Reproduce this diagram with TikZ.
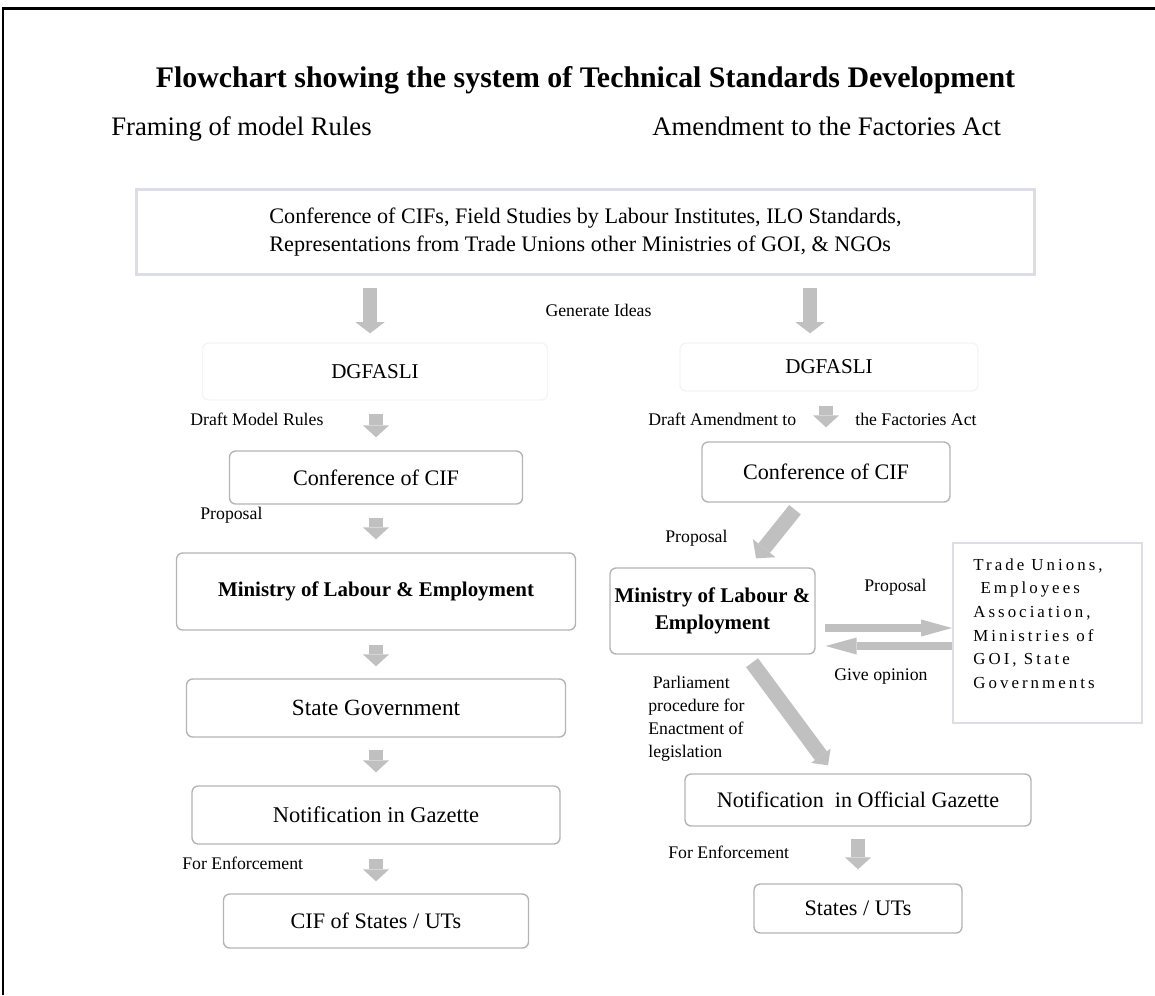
\documentclass[tikz,border=0pt]{standalone}
\usepackage{fontspec}
\setmainfont{Liberation Serif}
\newfontfamily\spacedfont[LetterSpace=18]{Liberation Serif}
\usetikzlibrary{arrows.meta,calc}

\definecolor{arrowgray}{HTML}{C0C0C0}
\definecolor{boxgray}{HTML}{B4B4B4}
\definecolor{frameblue}{HTML}{DCDDE6}
\definecolor{faintgray}{HTML}{F4F4F4}

\tikzset{
	rbox/.style={draw=boxgray, line width=0.8pt, rounded corners=3.5pt, inner sep=0pt, align=center, font=\fontsize{12.6}{15}\selectfont},
	mbox/.style={rbox, font=\fontsize{11.9}{15}\selectfont\bfseries},
	faintbox/.style={draw=faintgray, line width=0.8pt, rounded corners=3.5pt, inner sep=0pt, font=\fontsize{12}{14}\selectfont},
	sqbox/.style={draw=frameblue, inner sep=0pt},
	lbl/.style={inner sep=0pt, font=\fontsize{10.1}{13.1}\selectfont},
	head/.style={inner sep=0pt, font=\fontsize{15.2}{18}\selectfont},
	garrow/.style={draw=arrowgray, line width=8.5pt, -{Triangle[width=14.8pt, length=6.8pt, line width=0pt]}},
	bigarrow/.style={garrow, -{Triangle[width=16.5pt, length=6.3pt, line width=0pt]}},
	diagarrow/.style={draw=arrowgray, line width=8.5pt, -{Triangle[width=16.5pt, length=7.4pt, line width=0pt]}},
	thinarrow/.style={draw=arrowgray, line width=4.6pt, -{Triangle[width=9.7pt, length=17.6pt, line width=0pt]}},
}

\begin{document}
\begin{tikzpicture}[x=0.02cm, y=-0.02cm]
	% Boxes, labels and arrows:
	\useasboundingbox (0, 0) rectangle (1155, 995);
	\draw[line width=1.7pt] (3, 995) -- (3, 8) -- (1155, 8);
	\node[anchor=base, inner sep=0pt, font=\fontsize{17}{20}\selectfont\bfseries] (title) at (585.5, 87) {Flowchart showing the system of Technical Standards Development};
	\node[head, anchor=base west] (frameL) at (111, 135) {Framing of model Rules};
	\node[head, anchor=base west] (frameR) at (652, 135) {Amendment to the Factories Act};
	\node[sqbox, line width=1.7pt, minimum width=17.96cm, minimum height=1.7cm, align=left, font=\fontsize{12.6}{15.9}\selectfont] (topBox) at (585.5, 232) {Conference of CIFs, Field Studies by Labour Institutes, ILO Standards,\\Representations from Trade Unions other Ministries of GOI, \& NGOs};
	\node[lbl, anchor=base] (ideas) at (598.5, 316) {Generate Ideas};
	\node[faintbox, minimum width=6.9cm, minimum height=1.14cm] (dgL) at (375, 371.5) {DGFASLI};
	\node[faintbox, minimum width=5.96cm, minimum height=0.96cm] (dgR) at (829, 367) {DGFASLI};
	\draw[bigarrow, shorten <=0.24cm, shorten >=0.18cm] ($(topBox.south -| dgL.north)+(-5, 0)$) -- ($(dgL.north)+(-5, 0)$);
	\draw[bigarrow, shorten <=0.24cm, shorten >=0.18cm] ($(topBox.south -| dgR.north)+(-19, 0)$) -- ($(dgR.north)+(-19, 0)$);
	% Framing of model rules
	\node[rbox, minimum width=5.86cm, minimum height=1.06cm] (confL) at (376, 477.5) {Conference of CIF};
	\node[mbox, minimum width=7.98cm, minimum height=1.54cm] (minL) at (376, 591.5) {Ministry of Labour \& Employment};
	\node[rbox, font=\fontsize{13.2}{15}\selectfont, minimum width=7.58cm, minimum height=1.16cm] (stateL) at (376, 708) {State Government};
	\node[rbox, font=\fontsize{12.8}{15}\selectfont, minimum width=7.36cm, minimum height=1.16cm] (notifL) at (376, 815) {Notification in Gazette};
	\node[rbox, minimum width=6.1cm, minimum height=1.08cm] (cifL) at (376, 921) {CIF of States / UTs};
	\node[lbl, anchor=base west] (draftL) at (190, 425) {Draft Model Rules};
	\node[lbl, anchor=base west] (propL) at (200, 519) {Proposal};
	\node[lbl, anchor=base west] (enfL) at (182, 869) {For Enforcement};
	\draw[garrow, shorten <=0.26cm, shorten >=0.26cm] (dgL.south -| confL.north) -- (confL.north);
	\draw[garrow, shorten <=0.26cm, shorten >=0.26cm] (confL) -- (minL);
	\draw[garrow, shorten <=0.28cm, shorten >=0.24cm] (minL) -- (stateL);
	\draw[garrow, shorten <=0.24cm, shorten >=0.26cm] (stateL) -- (notifL);
	\draw[garrow, shorten <=0.28cm, shorten >=0.24cm] (notifL) -- (cifL);
	% Amendment to the Factories Act
	\node[rbox, minimum width=4.96cm, minimum height=1.2cm] (confR) at (826, 472) {Conference of CIF};
	\node[mbox, minimum width=4.1cm, minimum height=1.72cm] (minR) at (712.5, 611) {Ministry of Labour \&\\Employment};
	\node[sqbox, line width=1.1pt, minimum width=3.78cm, minimum height=3.6cm] (tuBox) at (1047.5, 633) {};
	\node[anchor=north west, inner sep=0pt, align=left, font=\fontsize{9.6}{13.5}\spacedfont] (tuText) at (973, 558) {Trade Unions,\\~Employees\\Association,\\Ministries of\\GOI, State\\Governments};
	\node[rbox, minimum width=6.92cm, minimum height=1.04cm] (notifR) at (858, 800) {Notification~ in Official Gazette};
	\node[rbox, minimum width=4.16cm, minimum height=0.98cm] (statesR) at (858, 908.5) {States / UTs};
	\node[lbl, anchor=base west] (draftR1) at (648, 425) {Draft Amendment to};
	\node[lbl, anchor=base west] (draftR2) at (855, 425) {the Factories Act};
	\node[lbl, anchor=base west] (propR) at (665, 542) {Proposal};
	\node[lbl, anchor=base west] (propH) at (864, 591) {Proposal};
	\node[lbl, anchor=base west] (opin) at (834, 680) {Give opinion};
	\node[lbl, anchor=north west, align=left] (parl) at (648, 676) {~Parliament\\procedure for\\Enactment of\\legislation};
	\node[lbl, anchor=base west] (enfR) at (668, 858) {For Enforcement};
	\draw[garrow, shorten <=0.28cm, shorten >=0.28cm] (dgR.south -| confR.north) -- (confR.north);
	\draw[diagarrow] ($(confR.south)+(-31, 7)$) -- ($(minR.north)+(43.5, -9)$);
	\draw[thinarrow] ($(minR.east)+(9, 17)$) -- ($(tuBox.west)+(0, -5)$);
	\draw[thinarrow] ($(tuBox.west)+(0, 13)$) -- ($(minR.east)+(10, 35)$);
	\draw[diagarrow, -{Triangle[width=13.7pt, length=6.8pt, line width=0pt]}] ($(minR.south)+(39.5, 8)$) -- ($(notifR.north)+(-30, -8)$);
	\draw[garrow, shorten <=0.24cm, shorten >=0.28cm] (notifR) -- (statesR);
\end{tikzpicture}
\end{document}
